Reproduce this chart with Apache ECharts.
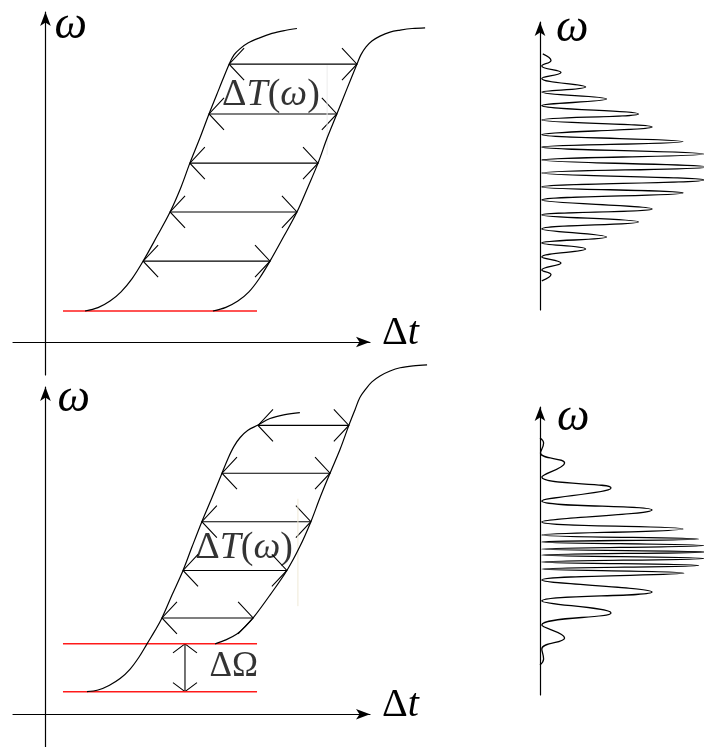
<!DOCTYPE html>
<html>
<head>
<meta charset="utf-8">
<title>Time delay and spectral interference</title>
<script src="https://cdn.jsdelivr.net/npm/echarts@6/dist/echarts.min.js"></script>
<style>
  html, body { margin: 0; padding: 0; background: #fff; }
  #chart { width: 704px; height: 747px; }
</style>
</head>
<body>
<div id="chart"></div>
<script>
// ---- Upper panel: two chirped pulses (Δt, ω) ----
const upperFrontCurve = [
  [1.22, 0.94], [1.62, 1.04], [1.99, 1.24], [2.33, 1.52], [2.67, 1.92], [3.01, 2.45],
  [3.44, 3.21], [3.84, 3.94], [4.18, 4.70], [4.45, 5.42], [4.76, 6.18], [5.04, 6.91],
  [5.35, 7.67], [5.66, 8.42], [5.81, 8.70], [6.00, 8.89], [6.24, 9.06], [6.58, 9.21],
  [6.98, 9.35], [7.38, 9.44], [7.75, 9.50]
];
const upperBackCurve = [
  [5.16, 0.94], [5.56, 1.05], [5.93, 1.24], [6.27, 1.52], [6.58, 1.91], [6.92, 2.45],
  [7.35, 3.21], [7.75, 3.94], [8.09, 4.70], [8.40, 5.42], [8.68, 6.18], [8.98, 6.91],
  [9.29, 7.67], [9.60, 8.42], [9.72, 8.70], [9.88, 8.94], [10.06, 9.12], [10.31, 9.27],
  [10.62, 9.39], [10.93, 9.45], [11.30, 9.50], [11.70, 9.52]
];
// [Δt start, Δt end, ω]
const upperDelays = [
  [3.01, 6.92, 2.45], [3.84, 7.75, 3.94], [4.45, 8.40, 5.42], [5.04, 8.98, 6.91], [5.66, 9.60, 8.42]
];
const upperCutoff = [[0.54, 0.94], [6.52, 0.94]];
const upperGuide = [[8.68, 8.39], [8.68, 5.67]];
const upperLabelAt = [[6.95, 7.48]];

// ---- Lower panel: pulses with a shifted start frequency ----
const lowerFrontCurve = [
  [1.28, 0.69], [1.62, 0.74], [1.96, 0.88], [2.30, 1.09], [2.61, 1.38], [2.88, 1.74],
  [3.13, 2.15], [3.38, 2.56], [3.59, 2.94], [3.90, 3.64], [4.24, 4.39], [4.52, 5.12],
  [4.82, 5.88], [5.13, 6.61], [5.44, 7.36], [5.63, 7.82], [5.81, 8.18], [6.00, 8.45],
  [6.24, 8.67], [6.55, 8.83], [6.92, 9.03], [7.38, 9.15], [7.84, 9.21]
];
const lowerBackCurve = [
  [5.23, 2.15], [5.56, 2.27], [5.90, 2.45], [6.15, 2.67], [6.40, 2.94], [6.92, 3.64],
  [7.44, 4.39], [7.84, 5.12], [8.18, 5.88], [8.46, 6.61], [8.77, 7.36], [9.08, 8.09],
  [9.35, 8.82], [9.54, 9.30], [9.69, 9.67], [9.88, 9.94], [10.06, 10.15], [10.31, 10.33],
  [10.62, 10.48], [10.93, 10.58], [11.33, 10.64], [11.76, 10.67]
];
const lowerDelays = [
  [3.59, 6.40, 2.94], [4.24, 7.44, 4.39], [4.82, 8.18, 5.88], [5.44, 8.77, 7.36], [6.55, 9.35, 8.82]
];
const lowerCutoffLow = [[0.54, 0.69], [6.52, 0.69]];
const lowerCutoffHigh = [[0.54, 2.15], [6.52, 2.15]];
// [Δt, ω from, ω to]
const lowerOmegaShift = [[4.30, 0.69, 2.15]];
const lowerGuide = [[7.78, 6.58], [7.78, 3.30]];
const lowerLabelAt = [[6.12, 5.09]];
const shiftLabelAt = [[5.80, 1.45]];

// ---- Spectra: [intensity, ω] ----
const upperSpectrum = [
  [0.17, 10.67], [0.67, 10.40], [0.11, 10.17], [1.28, 9.90], [0.11, 9.65], [2.78, 9.29],
  [0.11, 9.08], [4.06, 8.79], [0.11, 8.52], [6.00, 8.17], [0.11, 7.92], [6.83, 7.63],
  [0.11, 7.31], [8.72, 7.02], [0.11, 6.79], [10.0, 6.50], [0.11, 6.25], [10.22, 5.96],
  [0.11, 5.71], [10.0, 5.42], [0.11, 5.13], [8.72, 4.88], [0.11, 4.58], [6.83, 4.21],
  [0.11, 3.96], [6.00, 3.67], [0.11, 3.38], [4.06, 3.04], [0.11, 2.79], [2.78, 2.54],
  [0.11, 2.21], [1.28, 1.96], [0.11, 1.67], [0.67, 1.48], [0.11, 1.21]
];
const lowerSpectrum = [
  [0.00, 10.71], [0.22, 10.50], [0.03, 10.08], [1.50, 9.67], [0.11, 9.08], [4.33, 8.63],
  [0.11, 8.08], [6.83, 7.71], [0.11, 7.21], [8.72, 6.92], [0.11, 6.67], [9.67, 6.50],
  [0.11, 6.38], [10.0, 6.23], [0.11, 6.08], [10.11, 5.96], [0.11, 5.83], [10.0, 5.69],
  [0.11, 5.54], [9.67, 5.40], [0.11, 5.25], [8.78, 5.08], [0.11, 4.79], [6.83, 4.29],
  [0.11, 3.92], [4.33, 3.42], [0.11, 2.92], [1.50, 2.38], [0.11, 1.92], [0.22, 1.50],
  [0.00, 1.25]
];

// ---- Text ----
const omegaName = 'ω';
const deltaTName = '{d|Δ}{i|t}';
const delayLabel = '{d|Δ}{i|T}{d|(}{i|ω}{d|)}';
const shiftLabel = '{d|ΔΩ}';

const SERIF = 'Liberation Serif';
const INK = '#000';
const RED = '#ff1a1a';

function richText(size) {
  return {
    d: { fontFamily: SERIF, fontSize: size, color: INK },
    i: { fontFamily: SERIF, fontStyle: 'italic', fontSize: size, color: INK }
  };
}

function arrowAxis(min, max, name, gap, nameStyle) {
  return {
    type: 'value', min: min, max: max,
    name: name, nameLocation: 'end', nameGap: gap,
    nameTextStyle: nameStyle,
    axisLine: {
      show: true, onZero: true,
      symbol: ['none', 'arrow'], symbolSize: [8, 14],
      lineStyle: { color: INK, width: 1.2 }
    },
    axisTick: { show: false },
    axisLabel: { show: false },
    splitLine: { show: false }
  };
}

function hiddenAxis(min, max, gridIndex) {
  return {
    type: 'value', min: min, max: max, show: false, gridIndex: gridIndex,
    axisLine: { show: false }, axisTick: { show: false },
    axisLabel: { show: false }, splitLine: { show: false }
  };
}

function omegaStyle(padLeft) {
  return {
    fontFamily: SERIF, fontStyle: 'italic', fontSize: 46, color: INK,
    align: 'left', verticalAlign: 'middle', padding: [0, 0, 0, padLeft]
  };
}
const dtStyle = { padding: [0, 0, 18, 0], rich: richText(40) };

// Double-headed arrow between two data points, open chevron heads.
function doubleArrow(p, q, along, perp) {
  const dx = q[0] - p[0], dy = q[1] - p[1];
  const len = Math.sqrt(dx * dx + dy * dy) || 1;
  const ux = dx / len, uy = dy / len;
  const nx = -uy, ny = ux;
  const head = (t, s) => [
    [t[0] + s * ux * along + nx * perp, t[1] + s * uy * along + ny * perp],
    [t[0], t[1]],
    [t[0] + s * ux * along - nx * perp, t[1] + s * uy * along - ny * perp]
  ];
  const style = { stroke: INK, fill: null, lineWidth: 1.1 };
  return {
    type: 'group',
    children: [
      { type: 'line', shape: { x1: p[0], y1: p[1], x2: q[0], y2: q[1] }, style: style },
      { type: 'polyline', shape: { points: head(p, 1) }, style: style },
      { type: 'polyline', shape: { points: head(q, -1) }, style: style }
    ]
  };
}

function horizontalArrows(params, api) {
  const y = api.value(2);
  return doubleArrow(api.coord([api.value(0), y]), api.coord([api.value(1), y]), 15, 16);
}
function verticalArrow(params, api) {
  const x = api.value(0);
  return doubleArrow(api.coord([x, api.value(1)]), api.coord([x, api.value(2)]), 9, 12);
}

function curve(data, axisIndex, smooth, width) {
  return {
    type: 'line', data: data, xAxisIndex: axisIndex, yAxisIndex: axisIndex,
    smooth: smooth, symbol: 'none', clip: false, silent: true,
    lineStyle: { color: INK, width: width }
  };
}
function straight(data, axisIndex, color, width) {
  return {
    type: 'line', data: data, xAxisIndex: axisIndex, yAxisIndex: axisIndex,
    symbol: 'none', clip: false, silent: true,
    lineStyle: { color: color, width: width }
  };
}
function textMark(data, axisIndex, text, size) {
  return {
    type: 'scatter', data: data, xAxisIndex: axisIndex, yAxisIndex: axisIndex,
    symbolSize: 0, silent: true, clip: false,
    label: { show: true, position: 'inside', formatter: text, rich: richText(size) }
  };
}
function arrowSeries(data, axisIndex, render, encode) {
  return {
    type: 'custom', data: data, xAxisIndex: axisIndex, yAxisIndex: axisIndex,
    renderItem: render, encode: encode, silent: true, clip: false
  };
}

// Grids 0-1: left panel axes; 2-3: spectra; 4-5: drawing area for the left panels
// (same scale as 0-1, extended so the curves can run past the axis arrows).
const chart = echarts.init(document.getElementById('chart'), null, { renderer: 'canvas' });
chart.setOption({
  backgroundColor: '#fff',
  animation: false,
  grid: [
    { left: 13, top: 12, width: 357, height: 363 },
    { left: 13, top: 387, width: 357, height: 363 },
    { left: 540, top: 22, width: 180, height: 288 },
    { left: 540, top: 407, width: 180, height: 288 },
    { left: 13, top: 12, width: 421.85, height: 363 },
    { left: 13, top: 354, width: 421.85, height: 396 }
  ],
  xAxis: [
    Object.assign(arrowAxis(-1, 10, deltaTName, 12, dtStyle), { gridIndex: 0 }),
    Object.assign(arrowAxis(-1, 10, deltaTName, 12, dtStyle), { gridIndex: 1 }),
    hiddenAxis(0, 10, 2),
    hiddenAxis(0, 10, 3),
    hiddenAxis(-1, 12, 4),
    hiddenAxis(-1, 12, 5)
  ],
  yAxis: [
    Object.assign(arrowAxis(-1, 10, omegaName, -14, omegaStyle(9)), { gridIndex: 0 }),
    Object.assign(arrowAxis(-1, 10, omegaName, -12, omegaStyle(12)), { gridIndex: 1 }),
    Object.assign(arrowAxis(0, 12, omegaName, -7, omegaStyle(16)), { gridIndex: 2 }),
    Object.assign(arrowAxis(0, 12, omegaName, -11, omegaStyle(17)), { gridIndex: 3 }),
    hiddenAxis(-1, 10, 4),
    hiddenAxis(-1, 11, 5)
  ],
  series: [
    // upper panel
    straight(upperGuide, 4, '#ececec', 1),
    straight(upperCutoff, 4, RED, 1.5),
    curve(upperFrontCurve, 4, 0.35, 1.2),
    curve(upperBackCurve, 4, 0.35, 1.2),
    arrowSeries(upperDelays, 4, horizontalArrows, { x: [0, 1], y: 2 }),
    textMark(upperLabelAt, 4, delayLabel, 38),

    // lower panel
    straight(lowerGuide, 5, '#efe9d6', 1),
    straight(lowerCutoffLow, 5, RED, 1.5),
    straight(lowerCutoffHigh, 5, RED, 1.5),
    curve(lowerFrontCurve, 5, 0.35, 1.2),
    curve(lowerBackCurve, 5, 0.35, 1.2),
    arrowSeries(lowerDelays, 5, horizontalArrows, { x: [0, 1], y: 2 }),
    arrowSeries(lowerOmegaShift, 5, verticalArrow, { x: 0, y: [1, 2] }),
    textMark(lowerLabelAt, 5, delayLabel, 38),
    textMark(shiftLabelAt, 5, shiftLabel, 35),

    // spectra
    curve(upperSpectrum, 2, 0.45, 1.3),
    curve(lowerSpectrum, 3, 0.45, 1.3)
  ]
});
</script>
</body>
</html>
